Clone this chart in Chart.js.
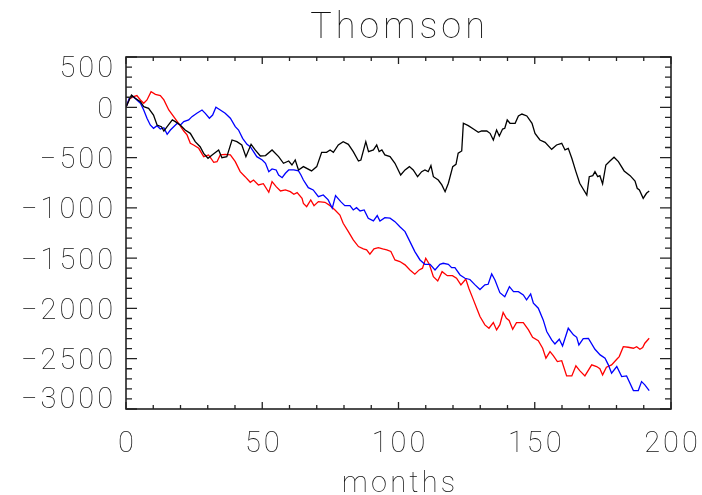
<!DOCTYPE html>
<html>
<head>
<meta charset="utf-8">
<script src="https://cdn.jsdelivr.net/npm/chart.js@4/dist/chart.umd.min.js"></script>
<style>
html,body{margin:0;padding:0;background:#fff;}
#wrap{width:702px;height:495px;}
</style>
</head>
<body>
<div id="wrap"><canvas id="c" width="702" height="495"></canvas></div>
<script>
const titleText = "Thomson";
const xAxisTitle = "months";
const xTicks = [0, 50, 100, 150, 200];
const yTicks = [500, 0, -500, -1000, -1500, -2000, -2500, -3000];

// [month, value]
const blackSeries = [[0,0],[2,122],[3.4,89],[5.3,56],[6.5,6],[8.3,-10],[10.1,-77],[11.4,-176],[13,-193],[13.9,-236],[15.1,-193],[17,-126],[18.1,-143],[19.9,-176],[21.7,-226],[23.6,-259],[25.4,-342],[27.2,-392],[28.5,-458],[30.1,-507],[31.6,-474],[34,-424],[35.2,-501],[37,-491],[38.9,-325],[40.7,-342],[42.5,-375],[44,-491],[45.9,-368],[47.4,-424],[49.3,-484],[51.2,-480],[53.6,-424],[56,-491],[57.8,-557],[59.7,-534],[60.9,-574],[62.1,-524],[63.3,-623],[65.1,-590],[68.1,-633],[70,-590],[71.8,-448],[73.6,-448],[74.9,-424],[76.1,-448],[77.9,-375],[79.7,-342],[81.6,-368],[83.4,-441],[85.3,-534],[86.2,-524],[88,-342],[89,-441],[90.8,-424],[92,-375],[92.9,-441],[93.9,-424],[95,-474],[96.9,-491],[98.7,-557],[100.8,-673],[102.4,-623],[104,-590],[105.4,-623],[107,-690],[108.5,-640],[109.7,-623],[110.9,-640],[111.9,-580],[112.8,-690],[114.6,-723],[115.9,-772],[117.1,-839],[118.3,-755],[119.9,-590],[121.1,-567],[121.9,-457],[123.2,-434],[123.8,-159],[125.6,-183],[127.5,-216],[129.3,-249],[130.5,-236],[132.4,-236],[133.6,-259],[134.8,-325],[136,-226],[137,-285],[138.2,-216],[139,-209],[139.9,-126],[140.9,-159],[142.8,-159],[144,-86],[145.3,-67],[147.1,-86],[149,-159],[150.1,-259],[151.9,-325],[153.8,-348],[156.2,-418],[158,-375],[159.9,-358],[161.1,-424],[162.3,-408],[163.6,-507],[165.1,-640],[166.5,-755],[169.1,-872],[170,-690],[171.3,-680],[172.1,-640],[173.1,-690],[173.9,-680],[174.9,-762],[176.1,-574],[177.6,-534],[179.1,-497],[180.7,-540],[182.8,-633],[185,-680],[186.8,-733],[187.6,-805],[188.4,-822],[189.8,-905],[191,-855],[192,-832]];

const blueSeries = [[0,0],[1.2,89],[2.2,115],[4,73],[5.3,40],[6.5,-27],[7.7,-109],[8.9,-176],[10.1,-209],[11.4,-183],[12.6,-216],[13.9,-203],[15.1,-269],[16.3,-226],[17.5,-193],[18.8,-159],[20,-176],[21.2,-143],[23,-126],[24.2,-93],[26,-60],[27.9,-27],[29.1,-60],[30.6,-109],[31.8,-77],[33,0],[34.6,-27],[36.4,-60],[38.3,-109],[40.1,-193],[41.3,-226],[42.8,-309],[44.4,-368],[45.6,-391],[46.8,-441],[48,-491],[50,-524],[51.2,-557],[52.4,-640],[53.6,-613],[55.1,-623],[56,-673],[57.3,-700],[58.5,-656],[59.7,-623],[61.6,-623],[63.3,-633],[64.2,-673],[65.1,-723],[66.9,-799],[68.7,-822],[70.6,-889],[72.4,-872],[74.2,-921],[75.7,-1004],[76.9,-879],[78.8,-938],[80.3,-978],[82.2,-978],[83.4,-1021],[84.6,-998],[85.9,-1031],[87.4,-1021],[88.9,-1103],[90.8,-1130],[92.2,-1077],[93.2,-1130],[95,-1097],[96.9,-1103],[98.7,-1137],[100.5,-1187],[102.4,-1236],[104.2,-1336],[106,-1435],[107.9,-1518],[109.7,-1561],[111.6,-1561],[113.4,-1617],[115.2,-1561],[116.4,-1551],[118.3,-1561],[119.5,-1594],[120.7,-1594],[122.6,-1667],[124.4,-1700],[126.2,-1712],[128.1,-1766],[129.9,-1812],[131.7,-1766],[132.9,-1760],[134.2,-1657],[135.4,-1717],[137.2,-1843],[139,-1883],[140.7,-1783],[142.2,-1833],[144,-1833],[145.8,-1866],[147,-1915],[148.5,-1856],[149.5,-1948],[151.3,-1998],[153.1,-2114],[154.4,-2230],[156.2,-2313],[157.4,-2353],[159,-2306],[160.2,-2373],[162.3,-2197],[164.2,-2263],[165.4,-2287],[166.2,-2363],[167.8,-2300],[169.7,-2297],[172.1,-2406],[174,-2462],[175.8,-2495],[177,-2561],[178.2,-2644],[180.1,-2578],[181.9,-2678],[183.7,-2671],[186.2,-2817],[188,-2817],[189.2,-2728],[190.4,-2760],[192,-2817]];

const redSeries = [[0,0],[1.2,82],[2.8,106],[4,116],[5.3,73],[6.5,40],[7.7,73],[9.2,155],[10.8,129],[12.6,116],[13.9,73],[15.7,-27],[17.5,-93],[19.3,-159],[21.2,-236],[22.4,-275],[23.6,-358],[24.8,-375],[26.7,-408],[28.5,-491],[30.3,-474],[32.2,-547],[33.4,-541],[34.6,-474],[36.4,-468],[38.3,-474],[40.1,-541],[41.9,-640],[43.7,-690],[45.6,-746],[46.8,-723],[48.6,-772],[50.4,-760],[52.4,-845],[53.6,-739],[55.1,-789],[56.7,-832],[58.5,-822],[60.3,-839],[61.6,-865],[62.8,-849],[64.6,-905],[65.1,-955],[66.3,-988],[67.8,-921],[69,-978],[70.6,-938],[73,-945],[74.9,-978],[76.7,-1021],[78.5,-1071],[79.7,-1153],[81.6,-1236],[83.4,-1319],[85.3,-1385],[87.1,-1408],[88.3,-1418],[89.5,-1461],[91,-1408],[92.6,-1395],[94.2,-1408],[95.7,-1418],[97.2,-1434],[98.7,-1518],[100.5,-1534],[102.4,-1567],[104.2,-1617],[106,-1660],[107.6,-1617],[108.8,-1600],[110,-1501],[111.3,-1561],[112.8,-1684],[114.4,-1727],[116,-1634],[117.9,-1674],[119.8,-1674],[121.3,-1700],[122.9,-1766],[124.7,-1707],[125.8,-1799],[127.5,-1915],[128.7,-1998],[129.9,-2081],[131.7,-2164],[133.2,-2197],[134.8,-2141],[136,-2214],[137.2,-2161],[138.4,-2041],[139.6,-2098],[140.6,-2120],[141.9,-2207],[143.3,-2141],[145.8,-2141],[147.7,-2214],[149.2,-2287],[151.3,-2320],[152.9,-2396],[154.1,-2495],[155.6,-2429],[156.8,-2470],[158.3,-2528],[159.9,-2520],[161.7,-2671],[163.6,-2671],[165.1,-2571],[166.5,-2618],[168.4,-2671],[170.9,-2561],[172.7,-2578],[173.9,-2600],[174.9,-2661],[176.3,-2585],[178.2,-2561],[180.1,-2505],[181,-2479],[182.5,-2380],[184.3,-2386],[186.2,-2396],[187.4,-2380],[188.6,-2406],[189.6,-2390],[190.4,-2346],[192,-2297]];

// pick the thinnest available sans face
function pickFont() {
  const cv = document.createElement('canvas').getContext('2d');
  const probe = 'Thomson 0123456789 months';
  const w = f => { cv.font = f; return cv.measureText(probe).width; };
  const baseMono = w('40px monospace'), baseSerif = w('40px serif');
  const has = fam => { const a = w('40px "' + fam + '", monospace'), b = w('40px "' + fam + '", serif'); return a !== baseMono || b !== baseSerif; };
  if (has('DejaVu Sans ExtraLight')) return {w: 'normal', f: '"DejaVu Sans ExtraLight", sans-serif'};
  if (has('Roboto Thin')) return {w: 'normal', f: '"Roboto Thin", sans-serif'};
  if (has('Roboto Light')) return {w: 'normal', f: '"Roboto Light", sans-serif'};
  if (has('Lato Hairline')) return {w: 'normal', f: '"Lato Hairline", sans-serif'};
  if (has('Lato Light')) return {w: 'normal', f: '"Lato Light", sans-serif'};
  if (has('Open Sans Light')) return {w: 'normal', f: '"Open Sans Light", sans-serif'};
  return {w: '300', f: 'Roboto, "DejaVu Sans", sans-serif'};
}
const FONTSEL = pickFont();
const toPts = s => s.map(p => ({x: p[0], y: p[1]}));

// draw text with extra letter spacing, aligned by its visible extent
function spacedText(ctx, text, x, y, align, sp) {
  const chars = Array.from(text);
  const widths = chars.map(c => ctx.measureText(c).width);
  const total = widths.reduce((s, v) => s + v, 0) + sp * (chars.length - 1);
  let sx = align === 'right' ? x - total : align === 'center' ? x - total / 2 : x;
  ctx.save();
  ctx.textAlign = 'left';
  chars.forEach((c, i) => { ctx.fillText(c, sx, y); sx += widths[i] + sp; });
  ctx.restore();
}

const idlAxes = {
  id: 'idlAxes',
  afterDraw(chart) {
    const ctx = chart.ctx;
    const xs = chart.scales.x, ys = chart.scales.y;
    const a = chart.chartArea;
    ctx.save();
    ctx.strokeStyle = '#222';
    ctx.lineWidth = 1.6;
    ctx.strokeRect(a.left, a.top, a.right - a.left, a.bottom - a.top);
    ctx.lineWidth = 1.3;
    ctx.beginPath();
    for (let v = 0; v <= 200; v += 10) {
      const px = xs.getPixelForValue(v);
      const len = (v % 50 === 0) ? 7 : 4;
      ctx.moveTo(px, a.bottom); ctx.lineTo(px, a.bottom - len);
      ctx.moveTo(px, a.top); ctx.lineTo(px, a.top + len);
    }
    for (let v = -3000; v <= 500; v += 100) {
      const py = ys.getPixelForValue(v);
      const len = (v % 500 === 0) ? 11 : 6;
      ctx.moveTo(a.left, py); ctx.lineTo(a.left + len, py);
      ctx.moveTo(a.right, py); ctx.lineTo(a.right - len, py);
    }
    ctx.stroke();

    ctx.fillStyle = '#111';
    ctx.font = FONTSEL.w + ' 29px ' + FONTSEL.f;
    ctx.textBaseline = 'middle';
    yTicks.forEach(v => {
      let py = ys.getPixelForValue(v) + 2;
      py = Math.max(a.top + 11, Math.min(a.bottom - 10, py));
      const label = v < 0 ? '\u2212' + Math.abs(v) : String(v);
      spacedText(ctx, label, 113, py, 'right', 3);
    });
    xTicks.forEach(v => {
      spacedText(ctx, String(v), xs.getPixelForValue(v), 443, 'center', 3);
    });
    spacedText(ctx, xAxisTitle, (a.left + a.right) / 2, 483, 'center', 3.2);
    ctx.font = FONTSEL.w + ' 36px ' + FONTSEL.f;
    spacedText(ctx, titleText, (a.left + a.right) / 2 - 1, 27, 'center', 4);
    ctx.restore();
  }
};

const ds = (s, c) => ({data: toPts(s), borderColor: c, backgroundColor: c, borderWidth: 1.3, pointRadius: 0, tension: 0, fill: false});

new Chart(document.getElementById('c'), {
  type: 'line',
  data: { datasets: [ds(blackSeries, '#000000'), ds(blueSeries, '#0000ff'), ds(redSeries, '#ff0000')] },
  options: {
    responsive: false,
    animation: false,
    devicePixelRatio: 1,
    layout: { padding: { left: 126, right: 31, top: 57, bottom: 86 } },
    plugins: { legend: { display: false }, tooltip: { enabled: false }, title: { display: false } },
    scales: {
      x: { type: 'linear', min: 0, max: 200, display: false },
      y: { type: 'linear', min: -3000, max: 500, display: false }
    }
  },
  plugins: [idlAxes]
});
</script>
</body>
</html>
